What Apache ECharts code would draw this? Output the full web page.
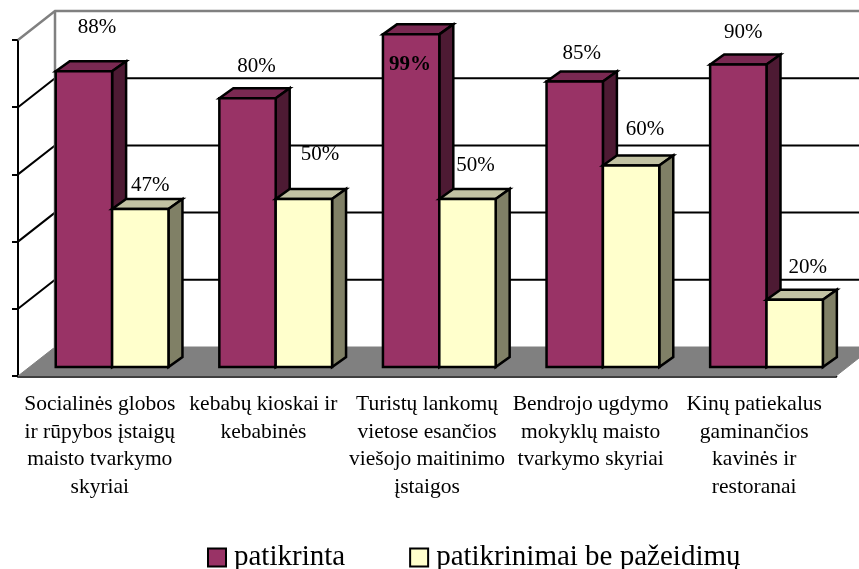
<!DOCTYPE html>
<html>
<head>
<meta charset="utf-8">
<title>Patikrinimai</title>
<script src="https://cdn.jsdelivr.net/npm/echarts@6/dist/echarts.min.js"></script>
<style>
html, body { margin: 0; padding: 0; background: #fff; overflow: hidden; }
#main { width: 859px; height: 569px; }
</style>
</head>
<body>
<div id="main"></div>
<script>
var categories = [
    'Socialinės globos\nir rūpybos įstaigų\nmaisto tvarkymo\nskyriai',
    'kebabų kioskai ir\nkebabinės',
    'Turistų lankomų\nvietose esančios\nviešojo maitinimo\nįstaigos',
    'Bendrojo ugdymo\nmokyklų maisto\ntvarkymo skyriai',
    'Kinų patiekalus\ngaminančios\nkavinės ir\nrestoranai'
];
var patikrinta = [88, 80, 99, 85, 90];
var bePazeidimu = [47, 50, 50, 60, 20];
var valueTicks = [0, 20, 40, 60, 80, 100];

// label nudges from the top of each bar, the original labels were moved by hand
var nudgeA = [[13, -44], [9, -32], [-1, 30], [7, -28], [5, -32]];
var nudgeB = [[10, -24], [16, -45], [8, -34], [14, -36], [13, -32]];

var font = '"Liberation Serif", "Times New Roman", serif';
var wallDx = 37, wallDy = -29;   // depth of the whole chart box
var barDx = 14, barDy = -10;     // depth of one bar
var barLift = -9;                // bar front stands this far up from the floor edge
var barShift = 12.3;             // bars stand in the middle of the floor

function renderWall(params, api) {
    var o = api.coord([0, 0]);
    var band = api.size([1, 0])[0];
    var left = o[0] - band / 2;
    var right = left + band * categories.length;
    var y0 = o[1];
    var yTop = api.coord([0, 100])[1];
    var children = [];

    children.push({
        type: 'polygon',
        shape: {points: [[left, y0], [left + wallDx, y0 + wallDy], [right + wallDx, y0 + wallDy], [right, y0]]},
        style: {fill: '#808080', stroke: '#808080', lineWidth: 1}
    });
    valueTicks.forEach(function (t) {
        var y = api.coord([0, t])[1];
        if (t === 0) return;
        var isTop = t === 100;
        children.push({
            type: 'polyline',
            shape: {points: [[left, y], [left + wallDx, y + wallDy], [right + wallDx, y + wallDy]]},
            style: {fill: null, stroke: isTop ? '#808080' : '#000', lineWidth: isTop ? 2.5 : 2}
        });
    });
    children.push({
        type: 'line',
        shape: {x1: left + wallDx, y1: yTop + wallDy, x2: left + wallDx, y2: y0 + wallDy},
        style: {stroke: '#808080', lineWidth: 2.5}
    });
    return {type: 'group', children: children};
}

function makeBars(colors, side, nudge, boldIndex) {
    return function (params, api) {
        var i = api.value(0);
        var v = api.value(1);
        var band = api.size([1, 0])[0];
        var w = band * 0.3445;
        var c = api.coord([i, v]);
        var b = api.coord([i, 0]);
        var xl = c[0] + barShift + (side === 0 ? -w : 0);
        var xr = xl + w;
        var yt = c[1] + barLift;
        var yb = b[1] + barLift;
        var n = nudge[i];
        return {
            type: 'group',
            children: [
                {
                    type: 'polygon',
                    shape: {points: [[xl, yt], [xl + barDx, yt + barDy], [xr + barDx, yt + barDy], [xr, yt]]},
                    style: {fill: colors.top, stroke: '#000', lineWidth: 2.5}
                },
                {
                    type: 'polygon',
                    shape: {points: [[xr, yt], [xr + barDx, yt + barDy], [xr + barDx, yb + barDy], [xr, yb]]},
                    style: {fill: colors.side, stroke: '#000', lineWidth: 2.5}
                },
                {
                    type: 'rect',
                    shape: {x: xl, y: yt, width: w, height: yb - yt},
                    style: {fill: colors.front, stroke: '#000', lineWidth: 2.5}
                },
                {
                    type: 'text',
                    style: {
                        x: (xl + xr) / 2 + n[0],
                        y: yt + n[1],
                        text: v + '%',
                        fill: '#000',
                        align: 'center',
                        verticalAlign: 'middle',
                        font: (i === boldIndex ? 'bold ' : '') + '21px ' + font
                    }
                }
            ]
        };
    };
}

var myChart = echarts.init(document.getElementById('main'));

var option = {
    animation: false,
    backgroundColor: '#fff',
    grid: {left: 18, right: 23, top: 40, bottom: 193},
    legend: {
        left: 202,
        top: 538,
        icon: 'rect',
        itemWidth: 18,
        itemHeight: 18,
        itemGap: 64,
        selectedMode: false,
        data: ['patikrinta', 'patikrinimai be pažeidimų'],
        textStyle: {fontFamily: font, fontSize: 29, color: '#000', padding: [0, 0, 0, 3]}
    },
    xAxis: {
        type: 'category',
        data: categories,
        axisLine: {lineStyle: {color: '#000', width: 2.5}},
        axisTick: {length: 6, lineStyle: {color: '#000', width: 2}},
        axisLabel: {
            interval: 0,
            margin: 15,
            fontFamily: font,
            fontSize: 21.5,
            lineHeight: 27.5,
            color: '#000'
        }
    },
    yAxis: {
        type: 'value',
        min: 0,
        max: 100,
        interval: 20,
        axisLine: {show: true, lineStyle: {color: '#000', width: 2}},
        axisTick: {show: true, length: 6, lineStyle: {color: '#000', width: 2}},
        axisLabel: {show: false},
        splitLine: {show: false}
    },
    series: [
        {
            name: 'siena',
            type: 'custom',
            renderItem: renderWall,
            data: [[0, 0]],
            silent: true,
            z: 1
        },
        {
            name: 'patikrinta',
            type: 'custom',
            renderItem: makeBars({front: '#993366', top: '#7a2952', side: '#4d1a33'}, 0, nudgeA, 2),
            data: patikrinta.map(function (v, i) { return [i, v]; }),
            itemStyle: {color: '#993366', borderColor: '#000', borderWidth: 2},
            z: 3
        },
        {
            name: 'patikrinimai be pažeidimų',
            type: 'custom',
            renderItem: makeBars({front: '#ffffcc', top: '#c2c2a3', side: '#808066'}, 1, nudgeB, -1),
            data: bePazeidimu.map(function (v, i) { return [i, v]; }),
            itemStyle: {color: '#ffffcc', borderColor: '#000', borderWidth: 2},
            z: 4
        }
    ]
};
myChart.setOption(option);
</script>
</body>
</html>
